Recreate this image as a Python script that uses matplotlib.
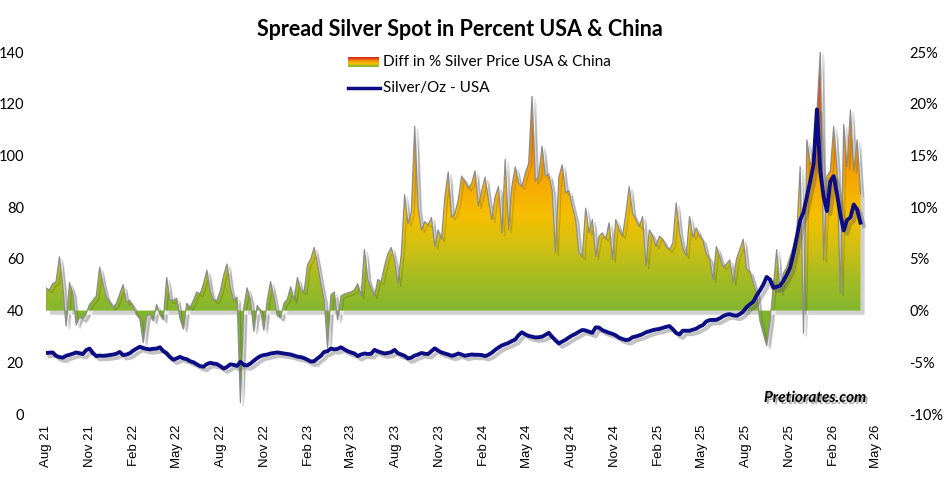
import numpy as np
import pandas as pd
import matplotlib
matplotlib.use("Agg")
import matplotlib.pyplot as plt
import matplotlib.dates as mdates
import matplotlib.patheffects as pe
from matplotlib.colors import LinearSegmentedColormap
from matplotlib.path import Path
from matplotlib.lines import Line2D

# weekly readings, first week = early Aug 2021
spread = [
    2.2, 2.0, 2.6, 2.8, 5.2, 2.4, -1.5, 2.7, 1.7, -1.4, -0.6, -0.8, -0.3,
    0.6, 1.0, 1.4, 4.2, 2.6, 1.3, 0.9, 0.3, 0.7, 1.6, 2.5, 0.8, 1.0,
    0.4, -0.4, -0.8, -3.1, -0.6, -0.3, -1.0, 0.6, -0.4, -0.9, 3.2, 1.0, 1.0,
    1.2, -0.8, -1.8, 0.7, 0.3, 1.0, 1.8, 1.6, 2.6, 3.9, 1.9, 1.0, 1.0,
    1.9, 3.4, 4.5, 2.2, 1.0, 1.3, -8.9, 0.3, 2.2, 1.0, -2.0, 0.5, 0.0,
    -1.9, 1.0, 2.8, 1.3, -0.5, -0.7, 0.7, 1.1, 2.3, 1.0, 3.2, 2.0, 1.8,
    4.4, 5.0, 6.1, 4.5, 2.6, 1.0, -3.6, 1.5, 1.8, -0.9, 1.4, 1.6, 1.7,
    1.8, 2.0, 2.6, 1.4, 5.9, 3.0, 2.2, 1.4, 3.0, 2.8, 4.3, 5.5, 6.1,
    4.8, 2.6, 5.5, 11.2, 8.4, 9.5, 17.8, 10.0, 7.8, 8.6, 8.3, 9.0, 6.2,
    7.8, 6.9, 11.0, 13.4, 9.0, 9.4, 10.7, 13.0, 12.5, 11.8, 12.3, 13.5, 10.1,
    11.6, 12.9, 10.7, 8.8, 11.0, 12.0, 7.5, 14.6, 7.8, 12.0, 13.9, 12.3, 12.0,
    13.3, 14.2, 20.7, 12.5, 13.0, 15.9, 13.0, 13.2, 11.6, 5.6, 12.9, 14.1, 11.4,
    11.6, 10.1, 8.8, 5.6, 5.2, 9.9, 7.5, 8.8, 5.2, 7.2, 7.5, 6.9, 8.5,
    4.9, 8.8, 7.8, 7.2, 9.4, 12.0, 9.4, 8.8, 8.1, 9.1, 4.3, 7.8, 7.2,
    6.2, 7.2, 6.9, 6.2, 5.9, 6.5, 10.4, 7.5, 6.0, 5.3, 9.1, 7.1, 8.0,
    7.2, 6.8, 5.5, 5.0, 3.0, 6.2, 5.2, 4.2, 4.5, 4.9, 2.7, 5.0, 5.9,
    6.9, 4.0, 3.8, 2.7, 1.7, -1.0, -2.2, -3.4, -1.0, 2.3, 5.9, 1.7, 3.6,
    4.2, 5.2, 6.2, 7.5, 13.9, -2.2, 16.5, 14.3, 13.9, 19.1, 25.0, 4.9, 13.0,
    13.5, 17.8, 13.5, 1.7, 18.0, 13.9, 19.4, 13.5, 16.5, 11.3,
]

silver = [
    23.6, 23.7, 23.8, 22.5, 22.0, 21.8, 22.5, 22.9, 23.3, 23.8, 23.5, 23.2, 24.7,
    25.3, 23.5, 22.4, 22.6, 22.5, 22.6, 22.8, 23.0, 23.3, 24.0, 22.8, 23.0, 23.5,
    24.5, 25.3, 26.0, 25.5, 25.2, 25.0, 25.2, 25.3, 25.8, 24.3, 23.5, 22.0, 21.0,
    21.5, 22.1, 21.5, 21.2, 20.4, 20.0, 19.2, 18.5, 18.3, 19.3, 19.8, 19.5, 19.3,
    18.5, 17.6, 18.2, 19.2, 19.0, 18.6, 20.2, 19.0, 18.8, 19.5, 20.6, 21.6, 22.4,
    22.8, 23.0, 23.4, 23.6, 23.8, 23.6, 23.4, 23.2, 23.0, 22.6, 22.2, 22.0, 21.6,
    21.0, 20.3, 20.4, 21.5, 22.5, 24.0, 24.3, 25.3, 25.0, 25.2, 25.8, 25.0, 24.3,
    23.8, 23.4, 22.4, 23.0, 23.4, 23.2, 23.3, 24.8, 24.2, 23.8, 23.4, 23.6, 23.9,
    24.8, 23.5, 23.0, 22.5, 21.5, 21.8, 22.6, 23.0, 23.6, 23.3, 23.2, 24.3, 25.4,
    24.5, 23.8, 23.4, 23.0, 22.5, 22.8, 23.4, 23.0, 22.5, 22.8, 23.0, 22.9, 22.9,
    22.8, 22.4, 22.9, 23.7, 24.8, 25.7, 26.5, 27.0, 27.5, 28.2, 28.8, 30.5, 31.6,
    30.8, 30.2, 29.9, 29.6, 29.7, 29.9, 30.6, 31.4, 29.8, 28.5, 27.3, 28.0, 28.7,
    29.6, 30.4, 31.0, 31.8, 32.5, 32.3, 31.8, 31.4, 33.5, 33.4, 32.4, 31.9, 31.4,
    31.0, 30.4, 29.5, 29.0, 28.6, 28.8, 29.7, 30.0, 30.4, 30.9, 31.6, 32.0, 32.4,
    32.7, 32.9, 33.3, 33.7, 34.0, 32.8, 31.3, 30.8, 32.2, 32.2, 32.2, 32.6, 33.0,
    33.8, 34.4, 35.8, 36.3, 36.4, 36.4, 37.0, 37.8, 38.4, 38.6, 38.2, 38.0, 38.6,
    39.6, 41.3, 42.4, 43.4, 45.8, 47.8, 50.0, 53.0, 52.0, 48.8, 49.2, 49.6, 51.5,
    53.8, 56.6, 62.0, 68.5, 75.0, 78.0, 84.0, 90.0, 96.6, 117.8, 94.0, 84.0, 78.5,
    90.0, 92.0, 85.0, 77.0, 71.0, 75.0, 76.0, 81.0, 79.0, 74.0,
]

dates = pd.date_range("2021-08-01", periods=len(spread), freq="7D")

title = "Spread Silver Spot in Percent USA & China"
spread_label = "Diff in % Silver Price USA & China"
silver_label = "Silver/Oz - USA"
left_ticks = [0, 20, 40, 60, 80, 100, 120, 140]
right_ticks = [-10, -5, 0, 5, 10, 15, 20, 25]

blue = "#0c0c84"
cmap = LinearSegmentedColormap.from_list("spread", [
    (0.0, "#5a9e2c"),
    (10 / 35, "#84b62f"),
    (13 / 35, "#a4bb22"),
    (16 / 35, "#d0bf14"),
    (19 / 35, "#f4c000"),
    (23 / 35, "#f6a600"),
    (27 / 35, "#f08400"),
    (31 / 35, "#e4461a"),
    (1.0, "#d82020"),
])

plt.rcParams["font.family"] = ["Lato", "DejaVu Sans"]

fig = plt.figure(figsize=(9.45, 4.94), dpi=100)
W, H = 945, 494
ax = fig.add_axes([46 / W, 1 - 414 / H, (883 - 46) / W, (414 - 52) / H])
ax2 = ax.twinx()
ax.yaxis.tick_right()
ax2.yaxis.tick_left()

# spread area with gradient fill
poly = ax.fill_between(dates, spread, 0, facecolor="#84b62f", edgecolor="none", zorder=1,
                       path_effects=[pe.SimplePatchShadow(offset=(3, -3), shadow_rgbFace="#666666", alpha=0.3)])
clip = Path.make_compound_path(*poly.get_paths())
xnum = mdates.date2num(dates)
grad = np.linspace(-10, 25, 400).reshape(-1, 1)
im = ax.imshow(grad, extent=[xnum[0], xnum[-1], -10, 25], origin="lower", aspect="auto",
               cmap=cmap, vmin=-10, vmax=25, interpolation="bicubic", zorder=2)
im.set_clip_path(clip, ax.transData)
ax.plot(dates, spread, color="#8c8c8c", lw=0.9, zorder=3,
        path_effects=[pe.SimpleLineShadow(offset=(2, -2), alpha=0.15), pe.Normal()])

ax2.plot(dates, silver, color=blue, lw=2.8, solid_joinstyle="round",
         path_effects=[pe.SimpleLineShadow(offset=(2.5, -2.5), shadow_color="#555555", alpha=0.35), pe.Normal()])

ax.set_xlim(pd.Timestamp("2021-08-01"), pd.Timestamp("2026-05-15"))
ax.set_ylim(-10, 25)
ax2.set_ylim(0, 140)

ax.set_yticks(right_ticks)
ax.set_yticklabels([f"{v}%" for v in right_ticks], ha="left")
ax2.set_yticks(left_ticks)
ax2.set_yticklabels([str(v) for v in left_ticks])
ax.tick_params(axis="y", length=0, pad=19, labelsize=10.5)
ax2.tick_params(axis="y", length=0, pad=16, labelsize=10.5)
ax.get_yticklabels()[0].set_x(1.0)

ax.xaxis.set_major_locator(mdates.MonthLocator(bymonth=[2, 5, 8, 11]))
ax.xaxis.set_major_formatter(mdates.DateFormatter("%b %y"))
ax.tick_params(axis="x", length=0, pad=8)
for lab in ax.get_xticklabels():
    lab.set_rotation(90)
    lab.set_fontfamily("Liberation Sans")
    lab.set_fontsize(9.5)

for a in (ax, ax2):
    for s in a.spines.values():
        s.set_visible(False)

fig.text(460 / W, 1 - 29 / H, title, ha="center", va="center", fontsize=15.5, fontweight="bold")

# legend
sw = fig.add_axes([348 / W, 1 - 67 / H, 31 / W, 10 / H])
sw.imshow(np.linspace(0, 25, 50).reshape(-1, 1), origin="lower", aspect="auto", cmap=cmap,
          vmin=-10, vmax=25)
sw.axis("off")
fig.text(383 / W, 1 - 62 / H, spread_label, va="center", fontsize=11)
fig.add_artist(Line2D([348 / W, 380 / W], [1 - 88 / H, 1 - 88 / H], color=blue, lw=2.5,
                      transform=fig.transFigure))
fig.text(383 / W, 1 - 88 / H, silver_label, va="center", fontsize=11)

fig.text(815 / W, 1 - 398 / H, "Pretiorates.com", ha="center", va="center", fontsize=11,
         fontweight="bold", style="italic",
         path_effects=[pe.SimplePatchShadow(offset=(1.5, -1.5), shadow_rgbFace="#777777", alpha=0.6), pe.Normal()])

fig.savefig("out.png", dpi=100)
